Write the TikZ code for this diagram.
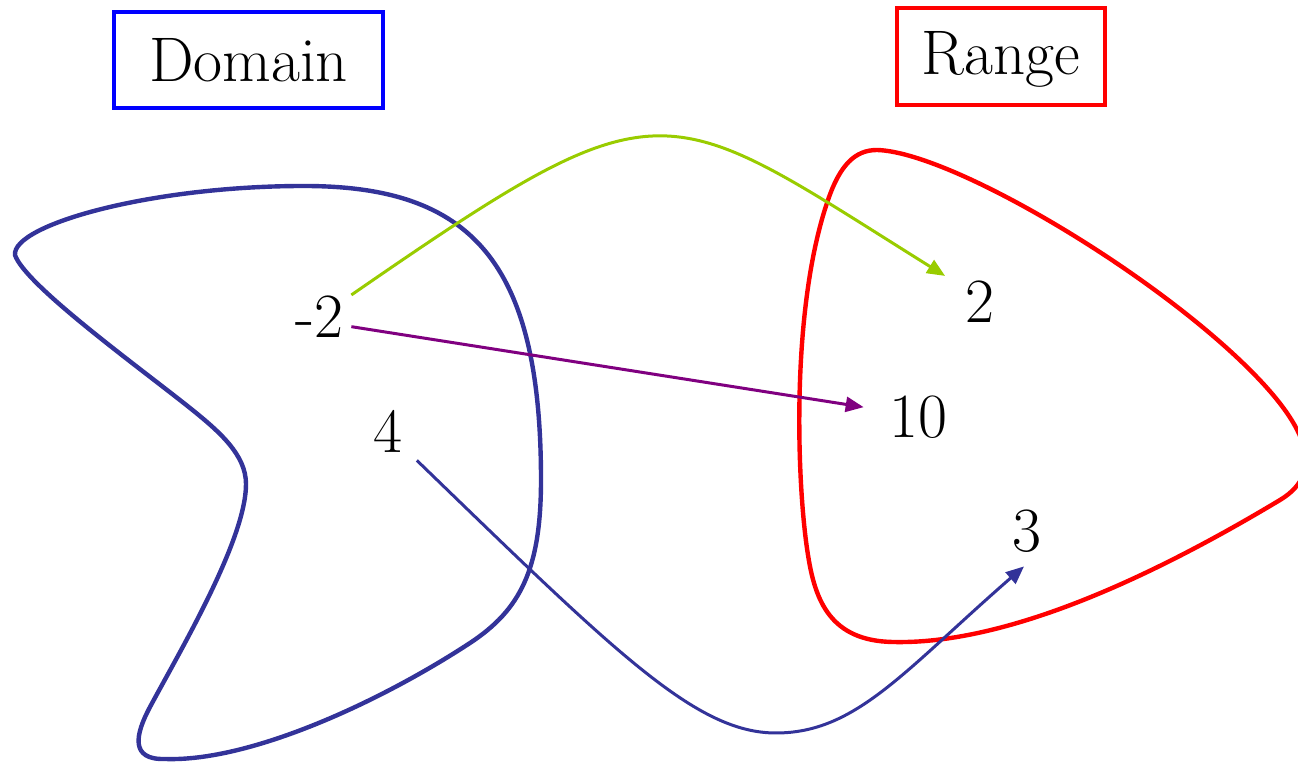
\documentclass[tikz,border=0pt]{standalone}
\usetikzlibrary{arrows.meta}
\definecolor{boxblue}{HTML}{0000FF}
\definecolor{boxred}{HTML}{FF0000}
\definecolor{domblue}{HTML}{333399}
\definecolor{mapgreen}{HTML}{99CC00}
\definecolor{mappurple}{HTML}{800080}
\begin{document}
\begin{tikzpicture}[x=0.5pt,y=-0.5pt,
  lbl/.style={font=\rmfamily\fontsize{31.5}{38}\selectfont, inner sep=0pt, anchor=base},
  titlebox/.style={draw, line width=2pt, font=\rmfamily\fontsize{31.5}{38}\selectfont, inner sep=0pt},
  blob/.style={line width=2.2pt},
  conn/.style={line width=1.5pt, -{Triangle[length=9pt,width=7.5pt]}}]
\clip (0,0) rectangle (1298,763);
% title boxes
\node[titlebox, draw=boxblue, minimum width=134.5pt, minimum height=48pt, text height=22pt, text depth=0pt] (domain) at (248.5,60) {Domain};
\node[titlebox, draw=boxred, minimum width=104pt, minimum height=48.5pt, text height=21pt, text depth=2.5pt] (range) at (1001,56.5) {Range};
% domain blob
\draw[blob, domblue] (15,255) .. controls (12,225) and (150,186) .. (304,186)
  .. controls (470,186) and (541,260) .. (541,480)
  .. controls (541,570) and (520,610) .. (470,643)
  .. controls (380,702) and (250,762) .. (165,759)
  .. controls (130,760) and (135,735) .. (150,707)
  .. controls (180,651) and (246,540) .. (246,484)
  .. controls (246,455) and (220,432) .. (190,408)
  .. controls (140,368) and (25,285) .. (15,255) -- cycle;
% range blob
\draw[blob, boxred] (877,150) .. controls (950,152) and (1150,270) .. (1250,370)
  .. controls (1300,420) and (1330,470) .. (1280,500)
  .. controls (1180,560) and (1020,645) .. (893,642)
  .. controls (830,641) and (815,600) .. (808,555)
  .. controls (797,487) and (790,310) .. (828,200)
  .. controls (840,165) and (855,150) .. (877,150) -- cycle;
% labels
\node[lbl] (m2) at (319,338) {-2};
\node[lbl] (d4) at (388,453) {4};
\node[lbl] (r2) at (980,323) {2};
\node[lbl] (r10) at (918,438) {10};
\node[lbl] (r3) at (1027,552) {3};
% connectors
\draw[conn, mapgreen] ([xshift=4pt,yshift=0.5pt]m2.north east) .. controls (667,77) and (660,98) .. ([xshift=-10pt,yshift=2.5pt]r2.north west);
\draw[conn, mappurple] ([xshift=4pt,yshift=-4.75pt]m2.east) -- ([xshift=-12.5pt,yshift=5.25pt]r10.west);
\draw[conn, domblue] ([xshift=7pt,yshift=-3.5pt]d4.south east) .. controls (617,654) and (696,733) .. (776,733) .. controls (856,733) and (904,671) .. ([xshift=-1.5pt,yshift=-6.5pt]r3.south);
\end{tikzpicture}
\end{document}
